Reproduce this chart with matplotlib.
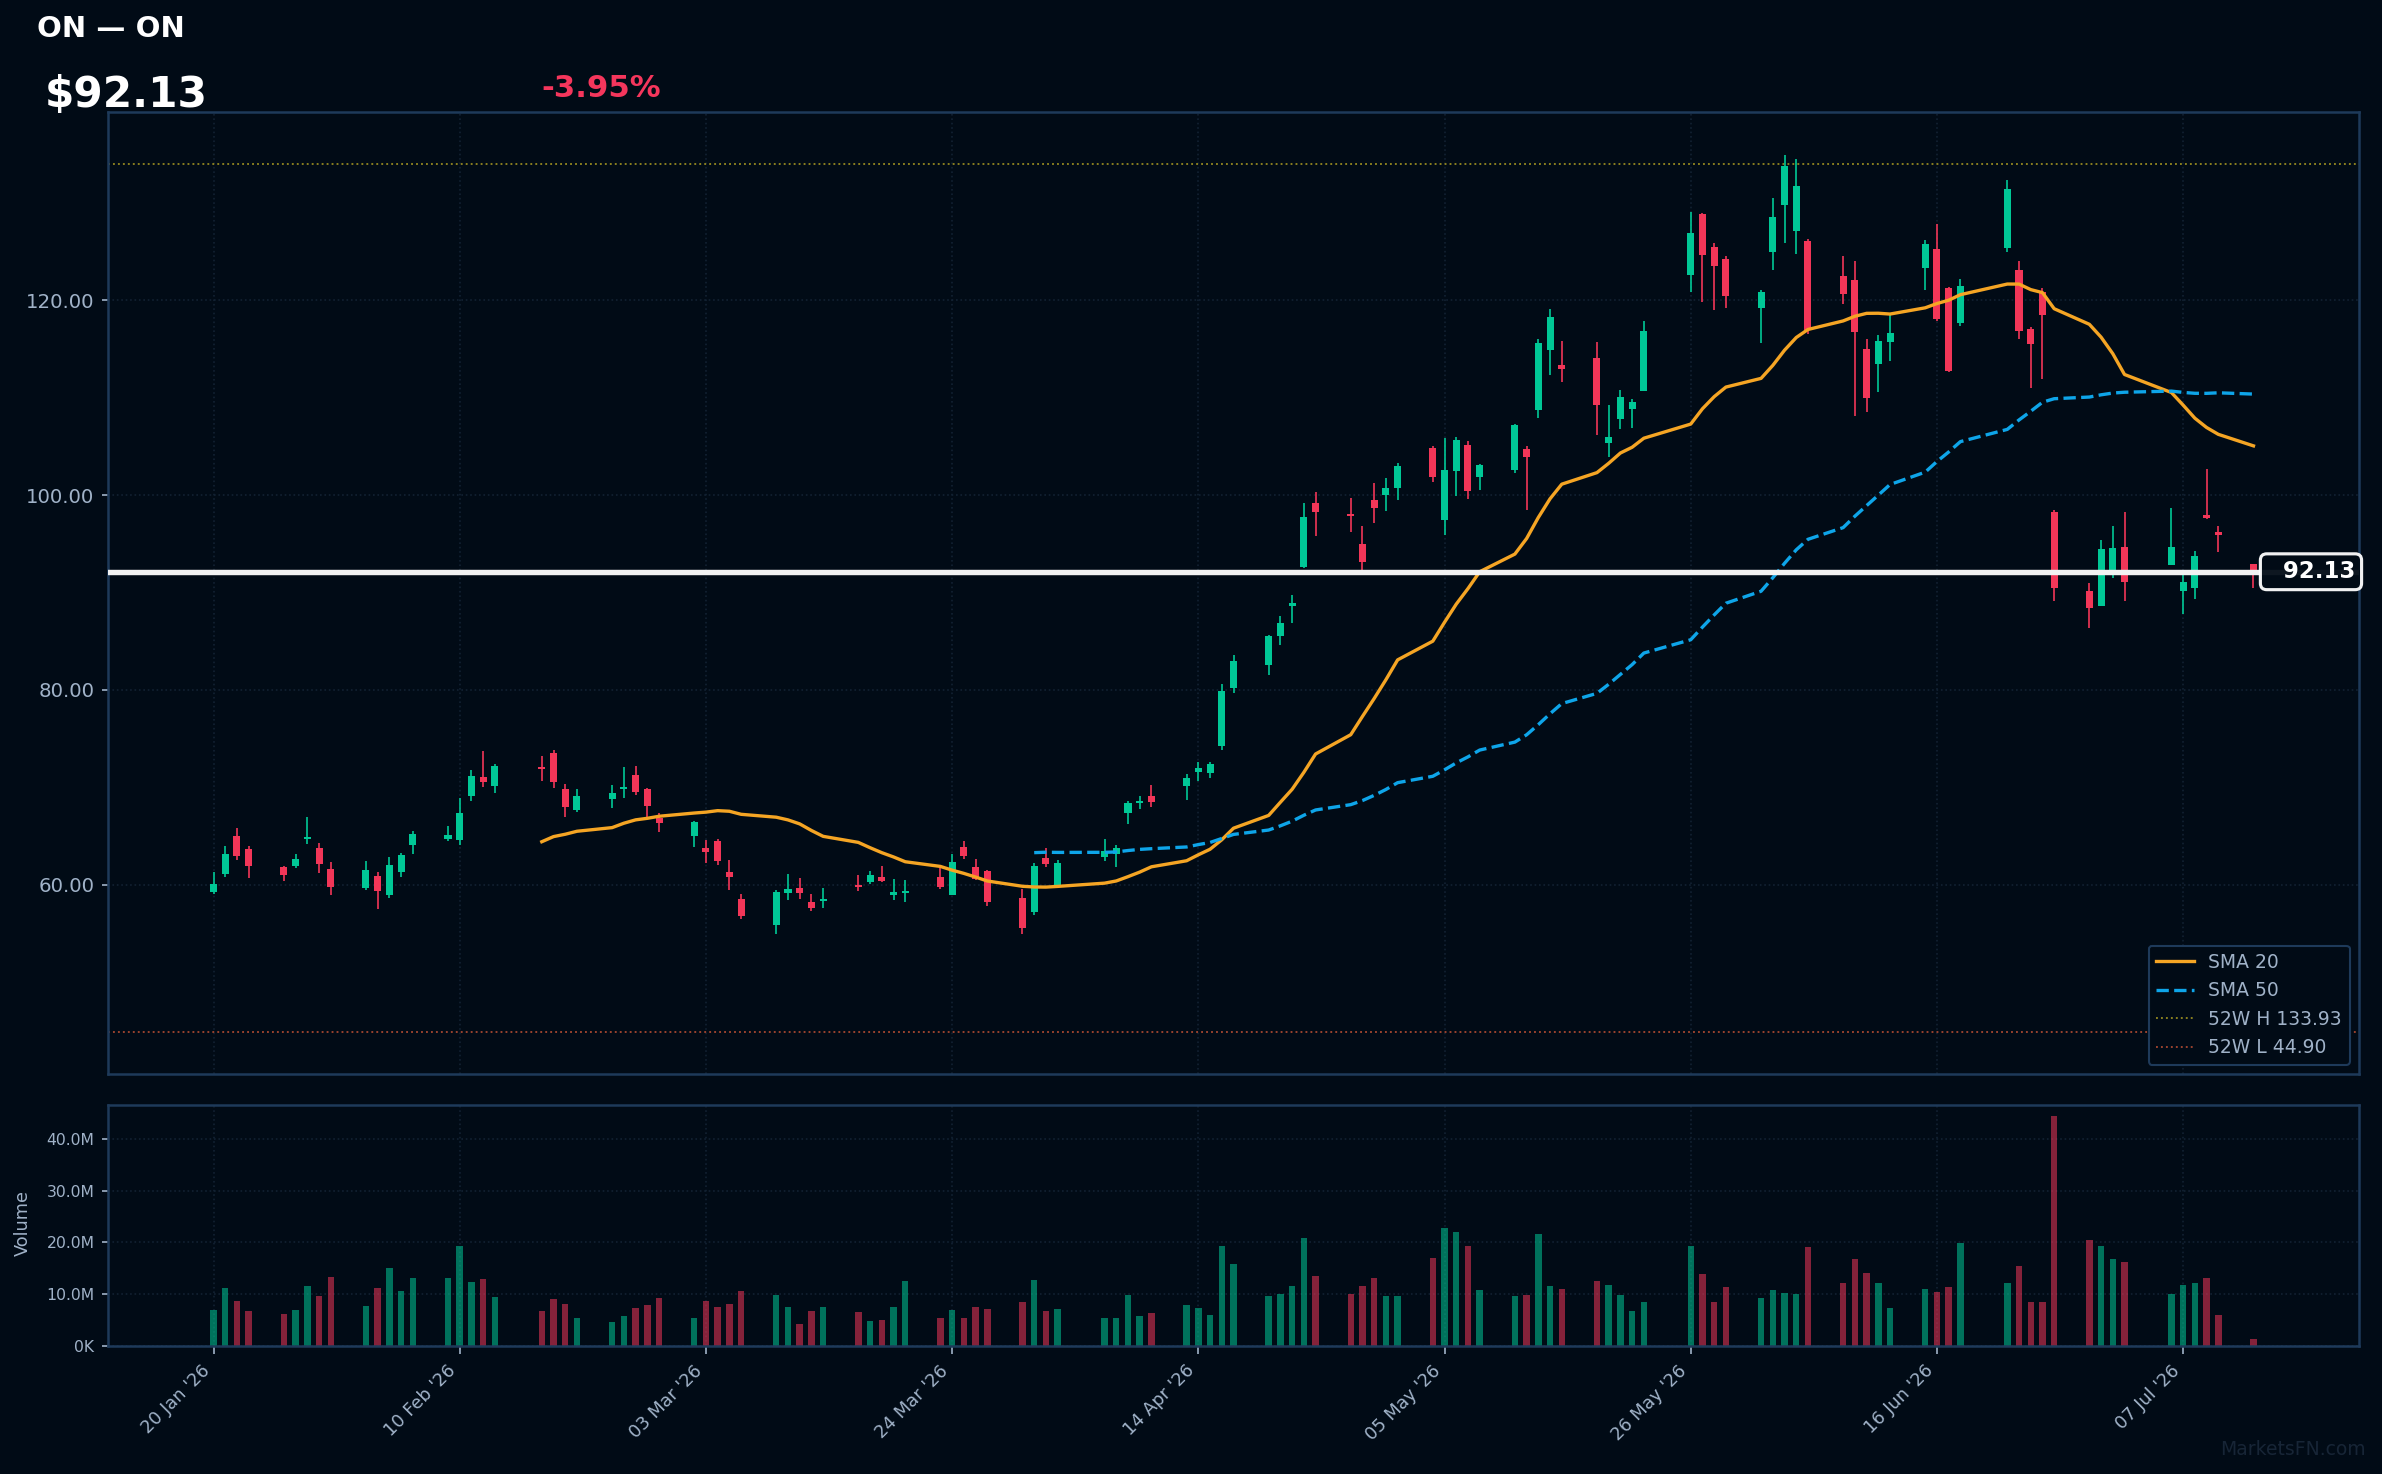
import numpy as np
import pandas as pd
import matplotlib
matplotlib.use("Agg")
import matplotlib.pyplot as plt
import matplotlib.dates as mdates
import matplotlib.transforms as mtransforms
from matplotlib.lines import Line2D
from matplotlib.ticker import FuncFormatter, FixedLocator

# ---------------- data ----------------
holidays = ["2026-02-16", "2026-04-03", "2026-05-25", "2026-06-19", "2026-07-03"]
dates = pd.bdate_range("2026-01-20", "2026-07-13")
dates = dates[~dates.isin(pd.to_datetime(holidays))]

opens = [59.31, 61.16, 65.03, 63.69, 61.85, 61.98, 64.75, 63.79, 61.64, 59.72,
         60.92, 59.00, 61.36, 64.13, 64.75, 64.65, 69.13, 71.08, 70.18, 72.10,
         73.54, 69.85, 67.72, 68.82, 69.88, 71.28, 69.85, 66.90, 65.06, 63.79,
         64.51, 61.33, 58.56, 55.90, 59.18, 59.69, 58.26, 58.39, 59.93, 60.31,
         60.82, 59.00, 59.18, 60.82, 58.97, 63.90, 61.85, 61.44, 58.67, 57.26,
         62.77, 59.83, 62.90, 63.18, 67.42, 68.43, 69.13, 70.15, 71.59, 71.49,
         74.26, 80.20, 82.56, 85.54, 88.65, 92.65, 99.18, 98.05, 94.97, 99.49,
         100.03, 100.75, 104.82, 97.47, 102.46, 105.13, 101.88, 102.59, 104.72, 108.75,
         114.90, 113.33, 114.05, 105.36, 107.83, 108.85, 110.70, 122.56, 128.82, 125.44,
         124.21, 119.18, 124.92, 129.74, 127.08, 126.05, 122.46, 122.05, 114.97, 113.44,
         115.69, 123.28, 125.23, 121.23, 117.64, 125.33, 123.08, 117.03, 120.82, 98.26,
         90.16, 88.66, 91.75, 94.67, 92.82, 90.20, 90.45, 97.94, 96.20, 92.90]
highs = [61.33, 64.00, 65.85, 64.00, 61.95, 63.18, 66.97, 64.31, 62.36, 62.46,
         61.33, 62.87, 63.28, 65.54, 66.05, 68.92, 71.79, 73.74, 72.41, 73.23,
         73.85, 70.36, 69.85, 70.26, 72.10, 72.20, 69.95, 67.35, 66.56, 64.62,
         64.72, 62.56, 59.08, 59.49, 61.13, 60.72, 59.08, 59.69, 61.03, 61.44,
         61.95, 60.62, 60.51, 61.77, 63.18, 64.51, 62.67, 61.54, 59.59, 62.26,
         63.79, 62.56, 64.72, 64.10, 68.62, 69.13, 70.26, 71.38, 72.62, 72.62,
         80.62, 83.59, 85.64, 87.59, 89.74, 99.18, 100.31, 99.69, 96.82, 101.23,
         101.74, 103.28, 105.03, 105.85, 105.95, 105.54, 103.21, 107.28, 105.03, 116.00,
         119.08, 115.79, 115.69, 109.23, 110.77, 109.85, 117.85, 129.03, 128.92, 125.85,
         124.51, 121.03, 130.46, 134.87, 134.46, 126.26, 124.51, 124.00, 116.00, 116.41,
         118.46, 126.15, 127.79, 121.33, 122.15, 132.31, 124.00, 117.23, 121.23, 98.46,
         91.00, 95.38, 96.82, 98.26, 98.67, 92.10, 94.26, 102.68, 96.82, 92.95]
lows = [59.11, 60.85, 62.56, 60.75, 60.41, 61.77, 64.20, 61.23, 58.97, 59.52,
        57.57, 58.70, 60.85, 63.21, 64.53, 64.13, 68.65, 70.08, 69.47, 70.70,
        69.97, 67.00, 67.51, 67.93, 68.95, 69.26, 67.00, 65.47, 63.93, 62.26,
        62.05, 59.49, 56.51, 54.97, 58.46, 58.56, 57.33, 57.64, 59.38, 60.10,
        60.31, 58.46, 58.26, 59.62, 58.97, 62.67, 60.54, 57.88, 55.00, 56.95,
        61.88, 59.83, 62.46, 61.88, 66.29, 67.79, 68.00, 68.72, 70.67, 70.97,
        73.85, 79.69, 81.54, 84.62, 86.87, 92.48, 95.82, 96.23, 92.10, 97.15,
        98.38, 99.51, 101.36, 95.92, 99.93, 99.62, 100.54, 102.28, 98.49, 107.92,
        112.34, 111.62, 106.18, 103.92, 106.80, 106.90, 110.70, 120.82, 119.80, 118.97,
        119.18, 115.59, 123.08, 125.85, 124.72, 116.51, 119.59, 108.10, 108.51, 110.56,
        113.74, 121.03, 117.85, 112.62, 117.33, 124.92, 116.00, 110.97, 111.90, 89.13,
        86.36, 88.66, 91.49, 89.13, 92.82, 87.80, 89.33, 97.58, 94.20, 90.50]
closes = [60.10, 63.18, 63.00, 61.98, 61.03, 62.67, 64.95, 62.18, 59.83, 61.54,
          59.42, 62.05, 63.08, 65.23, 65.13, 67.38, 71.18, 70.56, 72.20, 71.93,
          70.60, 68.03, 69.13, 69.44, 70.05, 69.57, 68.13, 66.39, 66.46, 63.38,
          62.46, 60.82, 56.82, 59.28, 59.59, 59.18, 57.64, 58.56, 59.79, 61.03,
          60.41, 59.28, 59.28, 59.83, 62.36, 62.97, 60.62, 58.29, 55.62, 61.95,
          62.18, 62.26, 63.49, 63.79, 68.41, 68.54, 68.51, 70.97, 72.00, 72.41,
          79.90, 82.97, 85.54, 86.87, 88.92, 97.74, 98.29, 97.88, 93.16, 98.69,
          100.72, 102.97, 101.88, 102.56, 105.64, 100.44, 103.08, 107.18, 103.93, 115.59,
          118.26, 112.95, 109.26, 105.97, 110.05, 109.54, 116.87, 126.87, 124.62, 123.49,
          120.41, 120.82, 128.51, 133.74, 131.69, 116.92, 120.62, 116.72, 109.95, 115.79,
          116.62, 125.74, 118.05, 112.72, 121.44, 131.38, 116.82, 115.49, 118.46, 90.45,
          88.44, 94.45, 94.56, 91.07, 94.67, 91.08, 93.77, 97.64, 95.92, 92.13]
volumes_m = [6.9, 11.2, 8.6, 6.7, 6.1, 6.9, 11.5, 9.6, 13.3, 7.7,
             11.2, 15.0, 10.6, 13.1, 13.1, 19.3, 12.3, 12.9, 9.4, 6.7,
             9.0, 8.1, 5.4, 4.6, 5.7, 7.3, 7.9, 9.2, 5.5, 8.6,
             7.5, 8.1, 10.6, 9.9, 7.5, 4.2, 6.7, 7.5, 6.5, 4.8,
             5.0, 7.5, 12.5, 5.4, 6.9, 5.5, 7.5, 7.1, 8.5, 12.7,
             6.7, 7.1, 5.4, 5.5, 9.8, 5.7, 6.3, 7.9, 7.3, 5.9,
             19.3, 15.8, 9.6, 10.0, 11.5, 20.8, 13.5, 10.0, 11.5, 13.1,
             9.6, 9.6, 17.0, 22.8, 22.0, 19.3, 10.8, 9.6, 9.8, 21.6,
             11.5, 11.0, 12.5, 11.7, 9.8, 6.7, 8.5, 19.3, 13.9, 8.5,
             11.4, 9.2, 10.8, 10.2, 10.0, 19.1, 12.1, 16.8, 14.1, 12.1,
             7.3, 11.0, 10.4, 11.4, 19.9, 12.1, 15.4, 8.5, 8.5, 44.3,
             20.5, 19.3, 16.8, 16.2, 10.0, 11.7, 12.1, 13.1, 5.9, 1.3]

ticker_title = "ON \u2014 ON"
last_price = 92.13
change_pct = -3.95
high_52w = 133.93
low_52w = 44.90
price_ticks = [60, 80, 100, 120]
vol_ticks = [0, 10e6, 20e6, 30e6, 40e6]

df = pd.DataFrame({"open": opens, "high": highs, "low": lows,
                   "close": closes, "volume": np.array(volumes_m) * 1e6},
                  index=dates[:len(opens)])
df["sma20"] = df["close"].rolling(20).mean()
df["sma50"] = df["close"].rolling(50).mean()

# ---------------- style ----------------
BG = "#010b16"
SPINE = "#1e3a5a"
TXT = "#a0b2c8"
GRID = "#122132"
UP = "#00c896"
DOWN = "#f23658"
SMA20_C = "#f5a524"
SMA50_C = "#0ea5e9"
H_C = "#8f8420"
L_C = "#a0452f"

W, H = 2382, 1474
DPI = 150
fig = plt.figure(figsize=(W / DPI, H / DPI), dpi=DPI, facecolor=BG)

ax = fig.add_axes([108 / W, 1 - 1074 / H, (2359 - 108) / W, (1074 - 112) / H], facecolor=BG)
axv = fig.add_axes([108 / W, 1 - 1346 / H, (2359 - 108) / W, (1346 - 1105) / H], facecolor=BG, sharex=ax)

x = mdates.date2num(df.index.to_pydatetime())
up = df["close"].values >= df["open"].values
cols = np.where(up, UP, DOWN)

# wicks
ax.vlines(x, df["low"], df["high"], colors=cols, lw=0.8, zorder=2)
# bodies
body_bottom = np.minimum(df["open"], df["close"])
body_h = np.maximum(np.abs(df["close"] - df["open"]), 0.18)
ax.bar(x, body_h, bottom=body_bottom, width=0.6, color=cols, edgecolor="none", zorder=3)

# SMAs
ax.plot(x, df["sma20"], color=SMA20_C, lw=1.6, zorder=4, label="SMA 20")
ax.plot(x, df["sma50"], color=SMA50_C, lw=1.6, ls="--", zorder=4, label="SMA 50")

# 52-week lines
ax.axhline(high_52w, color=H_C, lw=0.9, ls=":", zorder=1, label=f"52W H {high_52w:.2f}")
ax.axhline(low_52w, color=L_C, lw=0.9, ls=":", zorder=1, label=f"52W L {low_52w:.2f}")

# last price line
ax.axhline(last_price, color="#f2f2f2", lw=2.6, zorder=5)
trans = mtransforms.blended_transform_factory(ax.transAxes, ax.transData)
ax.text(0.9983, last_price, f"  {last_price:.2f}", transform=trans, ha="right", va="center",
        fontsize=11, fontweight="bold", color="white", zorder=10, clip_on=False,
        bbox=dict(boxstyle="round,pad=0.28", fc=BG, ec="white", lw=1.5, alpha=0.95))

ax.set_ylim(40.6, 139.3)
first = df.index[0]
last = df.index[-1]
ax.set_xlim(mdates.date2num(first - pd.Timedelta(days=9)),
            mdates.date2num(last + pd.Timedelta(days=9)))
ax.yaxis.set_major_locator(FixedLocator(price_ticks))
ax.yaxis.set_major_formatter(FuncFormatter(lambda v, p: f"{v:.2f}"))

# volume
vcols = np.where(up, UP, DOWN)
axv.bar(x, df["volume"], width=0.55, color=vcols, alpha=0.55, edgecolor="none", zorder=2)
axv.set_ylim(0, df["volume"].max() * 1.05)
axv.yaxis.set_major_locator(FixedLocator(vol_ticks))


def vfmt(v, p):
    if v >= 1e6:
        return f"{v / 1e6:.1f}M"
    return f"{v / 1e3:.0f}K"


axv.yaxis.set_major_formatter(FuncFormatter(vfmt))

tick_dates = pd.date_range(first, last, freq="21D")
axv.xaxis.set_major_locator(FixedLocator(mdates.date2num(tick_dates.to_pydatetime())))
axv.xaxis.set_major_formatter(mdates.DateFormatter("%d %b '%y"))

for a in (ax, axv):
    for s in a.spines.values():
        s.set_color(SPINE)
        s.set_linewidth(1.2)
    a.grid(True, color=GRID, ls=":", lw=0.8, zorder=0)
    a.set_axisbelow(True)

ax.tick_params(axis="x", bottom=False, labelbottom=False)
ax.tick_params(axis="y", colors=TXT, labelsize=9.5, length=3, color=TXT)
axv.tick_params(axis="y", colors=TXT, labelsize=7.5, length=3, color=TXT)
axv.tick_params(axis="x", colors=TXT, labelsize=8.5, length=4, color=TXT)
plt.setp(axv.get_xticklabels(), rotation=45, ha="right")

fig.text(23 / W, 1 - 1223 / H, "Volume", rotation=90, color=TXT, fontsize=8.5,
         ha="center", va="center")

# legend
handles = [Line2D([], [], color=SMA20_C, lw=1.6),
           Line2D([], [], color=SMA50_C, lw=1.6, ls="--"),
           Line2D([], [], color=H_C, lw=0.9, ls=":"),
           Line2D([], [], color=L_C, lw=0.9, ls=":")]
labels = ["SMA 20", "SMA 50", f"52W H {high_52w:.2f}", f"52W L {low_52w:.2f}"]
leg = ax.legend(handles, labels, loc="lower right", fontsize=9, facecolor=BG,
                edgecolor=SPINE, labelcolor=TXT, framealpha=1.0)
leg.set_zorder(20)

# header texts
fig.text(37 / W, 1 - 37 / H, ticker_title, color="white", fontsize=14,
         fontweight="bold", ha="left", va="baseline")
fig.text(45 / W, 1 - 107 / H, f"${last_price:.2f}", color="white", fontsize=20.3,
         fontweight="bold", ha="left", va="baseline")
fig.text(541 / W, 1 - 97 / H, f"{change_pct:.2f}%", color="#f5365c", fontsize=14.8,
         fontweight="bold", ha="left", va="baseline")
fig.text(2366 / W, 1 - 1455 / H, "MarketsFN.com", color="#172536", fontsize=9,
         ha="right", va="baseline")

fig.savefig("out.png", dpi=DPI, facecolor=BG)
